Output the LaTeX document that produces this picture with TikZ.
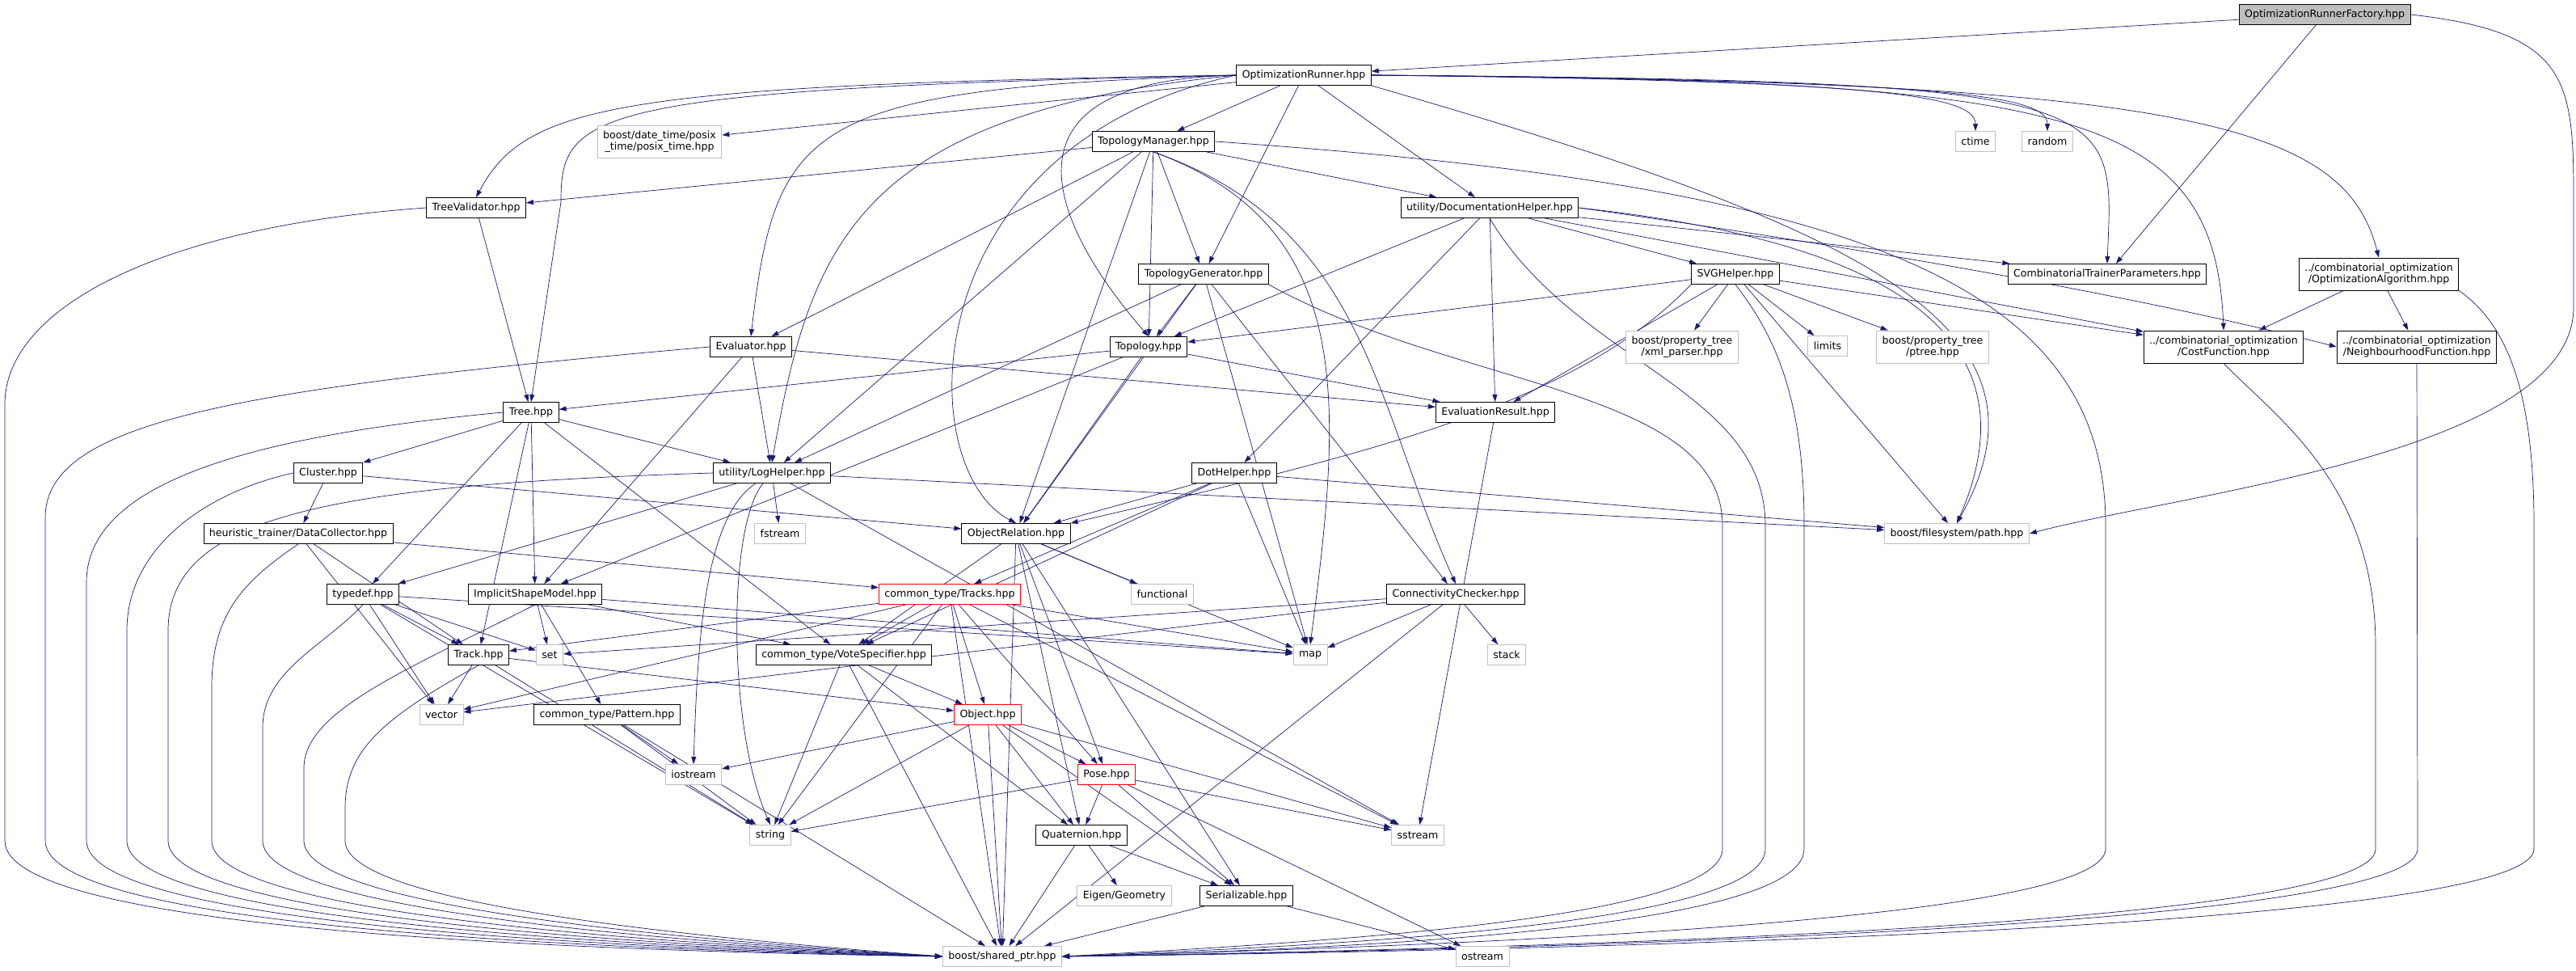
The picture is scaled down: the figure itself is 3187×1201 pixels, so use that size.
\documentclass[tikz,border=0pt]{standalone}
\usepackage{fontspec}
\setmainfont{DejaVu Sans}
\usetikzlibrary{arrows.meta,backgrounds}
\definecolor{edgeblue}{RGB}{25,25,112}
\definecolor{sysgray}{RGB}{191,191,191}
\begin{document}
\begin{tikzpicture}[x=1pt,y=1pt]
  \tikzset{hdr/.style={draw=black,line width=0.9pt,fill=white,minimum height=25pt,inner xsep=7pt,inner ysep=1pt,font=\fontsize{12.6}{14.5}\selectfont},
    sys/.style={hdr,draw=sysgray},
    bad/.style={hdr,draw=red},
    two/.style={align=center,minimum height=40pt},
    dep/.style={->,>={Triangle[length=9pt,width=6pt]},draw=edgeblue,line width=0.7pt}}
  \useasboundingbox (0,0) rectangle (3187,-1201);
  %files
  \node[hdr,fill=sysgray] (factory) at (2876,-18) {OptimizationRunnerFactory.hpp};
  \node[hdr] (runner) at (1613,-93) {OptimizationRunner.hpp};
  \node[hdr] (topman) at (1427,-175) {TopologyManager.hpp};
  \node[sys,two] (posix) at (816,-175) {boost/date\_time/posix\\\_time/posix\_time.hpp};
  \node[sys] (ctime) at (2444,-175) {ctime};
  \node[sys] (random) at (2533,-175) {random};
  \node[hdr] (treeval) at (589,-257) {TreeValidator.hpp};
  \node[hdr] (dochelp) at (1843,-257) {utility/DocumentationHelper.hpp};
  \node[hdr] (topgen) at (1489,-339) {TopologyGenerator.hpp};
  \node[hdr] (svg) at (2147,-339) {SVGHelper.hpp};
  \node[hdr] (ctp) at (2607,-339) {CombinatorialTrainerParameters.hpp};
  \node[hdr,two] (optalg) at (2943,-339) {../combinatorial\_optimization\\/OptimizationAlgorithm.hpp};
  \node[hdr] (evaluator) at (929,-429) {Evaluator.hpp};
  \node[hdr] (topology) at (1421,-429) {Topology.hpp};
  \node[sys,two] (xmlparser) at (2081,-429) {boost/property\_tree\\/xml\_parser.hpp};
  \node[sys] (limits) at (2261,-428) {limits};
  \node[sys,two] (ptree) at (2391,-429) {boost/property\_tree\\/ptree.hpp};
  \node[hdr,two] (costfn) at (2751,-429) {../combinatorial\_optimization\\/CostFunction.hpp};
  \node[hdr,two] (neighfn) at (2990,-429) {../combinatorial\_optimization\\/NeighbourhoodFunction.hpp};
  \node[hdr] (tree) at (657,-510) {Tree.hpp};
  \node[hdr] (evalres) at (1850,-510) {EvaluationResult.hpp};
  \node[hdr] (cluster) at (406,-585) {Cluster.hpp};
  \node[hdr] (loghelp) at (955,-585) {utility/LogHelper.hpp};
  \node[hdr] (dothelp) at (1527,-585) {DotHelper.hpp};
  \node[hdr] (datacoll) at (369,-660) {heuristic\_trainer/DataCollector.hpp};
  \node[sys] (fstream) at (965,-660) {fstream};
  \node[hdr] (objrel) at (1257,-660) {ObjectRelation.hpp};
  \node[sys] (fspath) at (2421,-660) {boost/filesystem/path.hpp};
  \node[hdr] (typedef) at (449,-735) {typedef.hpp};
  \node[hdr] (ism) at (662,-735) {ImplicitShapeModel.hpp};
  \node[bad] (tracks) at (1175,-735) {common\_type/Tracks.hpp};
  \node[sys] (functional) at (1438,-735) {functional};
  \node[hdr] (conncheck) at (1801,-735) {ConnectivityChecker.hpp};
  \node[hdr] (track) at (592,-810) {Track.hpp};
  \node[sys] (set) at (680,-810) {set};
  \node[hdr] (votespec) at (1044,-810) {common\_type/VoteSpecifier.hpp};
  \node[sys] (map) at (1621,-810) {map};
  \node[sys] (stack) at (1864,-810) {stack};
  \node[sys] (vector) at (546,-884) {vector};
  \node[hdr] (pattern) at (751,-884) {common\_type/Pattern.hpp};
  \node[bad] (object) at (1222,-884) {Object.hpp};
  \node[sys] (iostream) at (858,-958) {iostream};
  \node[bad] (pose) at (1369,-958) {Pose.hpp};
  \node[sys] (string) at (953,-1033) {string};
  \node[hdr] (quat) at (1338,-1033) {Quaternion.hpp};
  \node[sys] (sstream) at (1754,-1033) {sstream};
  \node[sys] (eigen) at (1391,-1108) {Eigen/Geometry};
  \node[hdr] (serial) at (1542,-1108) {Serializable.hpp};
  \node[sys] (sharedptr) at (1240,-1183) {boost/shared\_ptr.hpp};
  \node[sys] (ostream) at (1834,-1183) {ostream};
  \begin{scope}[on background layer]
  %factory
  \draw[dep] (factory) -- (runner);
  \draw[dep] (factory) -- (ctp);
  \draw[dep] (factory.east) .. controls (3180,-40) and (3184,-100) .. (3184,-250) -- (3184,-380) .. controls (3184,-560) and (2700,-610) .. (fspath.east);
  %runner
  \draw[dep] (runner) -- (topman);
  \draw[dep] (runner.west) .. controls (760,-105) and (650,-130) .. (treeval.north);
  \draw[dep] (runner) -- (posix);
  \draw[dep] (runner.west) .. controls (720,-110) and (694,-140) .. (694,-250) -- (tree.north);
  \draw[dep] (runner.west) .. controls (1000,-110) and (960,-150) .. (evaluator.north);
  \draw[dep] (runner.west) .. controls (1060,-140) and (1003,-300) .. (loghelp.north);
  \draw[dep] (runner.west) .. controls (1127,-180) and (1127,-580) .. (objrel.north);
  \draw[dep] (runner.west) .. controls (1200,-100) and (1320,-300) .. (topology.north);
  \draw[dep] (runner) -- (topgen);
  \draw[dep] (runner) -- (dochelp);
  \draw[dep] (runner.east) .. controls (2300,-100) and (2444,-115) .. (ctime.north);
  \draw[dep] (runner.east) .. controls (2380,-100) and (2533,-115) .. (random.north);
  \draw[dep] (runner.east) .. controls (2640,-100) and (2615,-120) .. (ctp.north);
  \draw[dep] (runner.east) .. controls (2550,-100) and (2740,-130) .. (costfn.north);
  \draw[dep] (runner.east) .. controls (2700,-100) and (2900,-150) .. (optalg.north);
  \draw[dep] (runner.south east) .. controls (2300,-280) and (2560,-400) .. (fspath.north);
  %topology manager
  \draw[dep] (topman) -- (treeval);
  \draw[dep] (topman) -- (evaluator);
  \draw[dep] (topman) -- (loghelp);
  \draw[dep] (topman) -- (objrel);
  \draw[dep] (topman) -- (topology);
  \draw[dep] (topman) -- (topgen);
  \draw[dep] (topman) -- (dochelp);
  \draw[dep] (topman.south) .. controls (1680,-280) and (1660,-500) .. (map.north);
  \draw[dep] (topman.south) .. controls (1690,-280) and (1700,-500) .. (conncheck.north);
  \draw[dep] (topman.east) .. controls (2300,-230) and (2605,-350) .. (2605,-650) -- (2605,-1050) .. controls (2605,-1140) and (1800,-1170) .. (sharedptr.east);
  %helpers
  \draw[dep] (treeval) -- (tree);
  \draw[dep] (dochelp) -- (ctp);
  \draw[dep] (dochelp) -- (costfn);
  \draw[dep] (dochelp.east) .. controls (2400,-320) and (2700,-380) .. (neighfn.west);
  \draw[dep] (dochelp.east) .. controls (2350,-300) and (2520,-420) .. (fspath.north);
  \draw[dep] (dochelp) -- (topology);
  \draw[dep] (dochelp) -- (dothelp);
  \draw[dep] (dochelp) -- (evalres);
  \draw[dep] (dochelp) -- (svg);
  \draw[dep] (dochelp.south) .. controls (1950,-450) and (2184,-480) .. (2184,-650) -- (2184,-1050) .. controls (2184,-1140) and (1700,-1168) .. (sharedptr.east);
  \draw[dep] (topgen) -- (topology);
  \draw[dep] (topgen) -- (objrel);
  \draw[dep] (topgen) -- (loghelp);
  \draw[dep] (topgen) -- (map);
  \draw[dep] (topgen) -- (conncheck);
  \draw[dep] (topgen.south east) .. controls (1800,-480) and (2131,-480) .. (2131,-650) -- (2131,-1050) .. controls (2131,-1135) and (1650,-1165) .. (sharedptr.east);
  \draw[dep] (svg) -- (topology);
  \draw[dep] (svg.south west) .. controls (1950,-500) and (1700,-560) .. (objrel.north east);
  \draw[dep] (svg) -- (evalres);
  \draw[dep] (svg) -- (xmlparser);
  \draw[dep] (svg) -- (limits);
  \draw[dep] (svg) -- (ptree);
  \draw[dep] (svg) -- (fspath);
  \draw[dep] (svg) -- (costfn);
  \draw[dep] (svg.south) .. controls (2200,-420) and (2232,-500) .. (2232,-650) -- (2232,-1050) .. controls (2232,-1142) and (1750,-1172) .. (sharedptr.east);
  \draw[dep] (optalg) -- (costfn);
  \draw[dep] (optalg) -- (neighfn);
  \draw[dep] (optalg.south east) .. controls (3100,-400) and (3135,-480) .. (3135,-650) -- (3135,-1050) .. controls (3135,-1150) and (1900,-1176) .. (sharedptr.east);
  \draw[dep] (costfn.south) .. controls (2820,-520) and (2939,-600) .. (2939,-800) -- (2939,-1050) .. controls (2939,-1148) and (1850,-1174) .. (sharedptr.east);
  \draw[dep] (neighfn.south) -- (2991,-1050) .. controls (2991,-1149) and (1870,-1175) .. (sharedptr.east);
  %evaluation and topology
  \draw[dep] (evaluator) -- (evalres);
  \draw[dep] (evaluator) -- (loghelp);
  \draw[dep] (evaluator) -- (ism);
  \draw[dep] (topology) -- (tree);
  \draw[dep] (topology) -- (evalres);
  \draw[dep] (topology) -- (objrel);
  \draw[dep] (topology) -- (ism);
  \draw[dep] (evalres) -- (sstream);
  %tree
  \draw[dep] (tree) -- (cluster);
  \draw[dep] (tree) -- (loghelp);
  \draw[dep] (tree) -- (typedef);
  \draw[dep] (tree) -- (ism);
  \draw[dep] (tree) -- (track);
  \draw[dep] (tree) -- (votespec);
  \draw[dep] (cluster) -- (objrel);
  \draw[dep] (cluster) -- (datacoll);
  \draw[dep] (loghelp) -- (typedef);
  \draw[dep] (loghelp) -- (fstream);
  \draw[dep] (loghelp) .. controls (870,-640) and (863,-800) .. (iostream.north);
  \draw[dep] (loghelp) .. controls (900,-650) and (900,-900) .. (string.north);
  \draw[dep] (loghelp) -- (fspath);
  \draw[dep] (loghelp) -- (sstream);
  \draw[dep] (dothelp) -- (objrel);
  \draw[dep] (dothelp) -- (tracks);
  \draw[dep] (dothelp) -- (votespec);
  \draw[dep] (dothelp) -- (map);
  \draw[dep] (dothelp) -- (fspath);
  \draw[dep] (datacoll) -- (tracks);
  \draw[dep] (datacoll) -- (track);
  \draw[dep] (datacoll) -- (vector);
  %object relation
  \draw[dep] (objrel) -- (votespec);
  \draw[dep] (objrel) -- (functional);
  \draw[dep] (objrel) -- (map);
  \draw[dep] (objrel) -- (pose);
  \draw[dep] (objrel) -- (quat);
  \draw[dep] (objrel) -- (serial);
  \draw[dep] (objrel) -- (sharedptr);
  \draw[dep] (tracks) -- (track);
  \draw[dep] (tracks) -- (vector);
  \draw[dep] (tracks) -- (map);
  \draw[dep] (tracks) -- (votespec);
  \draw[dep] (tracks) -- (object);
  \draw[dep] (tracks) -- (pose);
  \draw[dep] (tracks) -- (string);
  \draw[dep] (tracks) -- (sstream);
  \draw[dep] (tracks) -- (sharedptr);
  \draw[dep] (conncheck) -- (set);
  \draw[dep] (conncheck) -- (map);
  \draw[dep] (conncheck) -- (stack);
  \draw[dep] (conncheck) -- (vector);
  \draw[dep] (conncheck) -- (sharedptr);
  \draw[dep] (typedef) -- (track);
  \draw[dep] (typedef) -- (set);
  \draw[dep] (typedef) -- (vector);
  \draw[dep] (typedef) -- (string);
  \draw[dep] (typedef) -- (map);
  \draw[dep] (ism) -- (set);
  \draw[dep] (ism) -- (map);
  \draw[dep] (ism) -- (votespec);
  \draw[dep] (ism) -- (pattern);
  %track and below
  \draw[dep] (track) -- (vector);
  \draw[dep] (track) -- (string);
  \draw[dep] (track) -- (object);
  \draw[dep] (votespec) -- (object);
  \draw[dep] (votespec) -- (string);
  \draw[dep] (votespec) -- (quat);
  \draw[dep] (votespec) -- (sharedptr);
  \draw[dep] (pattern) -- (iostream);
  \draw[dep] (pattern) -- (string);
  \draw[dep] (pattern) -- (sharedptr);
  \draw[dep] (object) -- (iostream);
  \draw[dep] (object) -- (pose);
  \draw[dep] (object) -- (quat);
  \draw[dep] (object) -- (serial);
  \draw[dep] (object) -- (string);
  \draw[dep] (object) -- (sstream);
  \draw[dep] (object) -- (sharedptr);
  \draw[dep] (pose) -- (string);
  \draw[dep] (pose) -- (quat);
  \draw[dep] (pose) -- (serial);
  \draw[dep] (pose) -- (sstream);
  \draw[dep] (pose) -- (ostream);
  \draw[dep] (quat) -- (eigen);
  \draw[dep] (quat) -- (serial);
  \draw[dep] (quat) -- (sharedptr);
  \draw[dep] (serial) -- (sharedptr);
  \draw[dep] (serial) -- (ostream);
  %left sweep to shared_ptr
  \draw[dep] (treeval.west) .. controls (200,-280) and (6,-380) .. (6,-500) -- (6,-1040) .. controls (6,-1150) and (700,-1176) .. (sharedptr.west);
  \draw[dep] (evaluator.west) .. controls (300,-480) and (56,-520) .. (56,-640) -- (56,-1040) .. controls (56,-1146) and (720,-1174) .. (sharedptr.west);
  \draw[dep] (tree.west) .. controls (300,-540) and (107,-600) .. (107,-720) -- (107,-1040) .. controls (107,-1142) and (740,-1172) .. (sharedptr.west);
  \draw[dep] (cluster.west) .. controls (250,-610) and (157,-680) .. (157,-780) -- (157,-1040) .. controls (157,-1138) and (760,-1170) .. (sharedptr.west);
  \draw[dep] (loghelp.west) .. controls (400,-600) and (208,-640) .. (208,-780) -- (208,-1040) .. controls (208,-1134) and (780,-1168) .. (sharedptr.west);
  \draw[dep] (datacoll.south) .. controls (300,-720) and (262,-760) .. (262,-850) -- (262,-1040) .. controls (262,-1130) and (800,-1166) .. (sharedptr.west);
  \draw[dep] (typedef.south) .. controls (400,-800) and (325,-830) .. (325,-900) -- (325,-1040) .. controls (325,-1126) and (820,-1164) .. (sharedptr.west);
  \draw[dep] (ism.south) .. controls (500,-830) and (376,-880) .. (376,-950) -- (376,-1040) .. controls (376,-1122) and (840,-1162) .. (sharedptr.west);
  \draw[dep] (track.south) .. controls (470,-890) and (427,-930) .. (427,-1000) -- (427,-1040) .. controls (427,-1118) and (860,-1160) .. (sharedptr.west);
  \end{scope}
\end{tikzpicture}
\end{document}
